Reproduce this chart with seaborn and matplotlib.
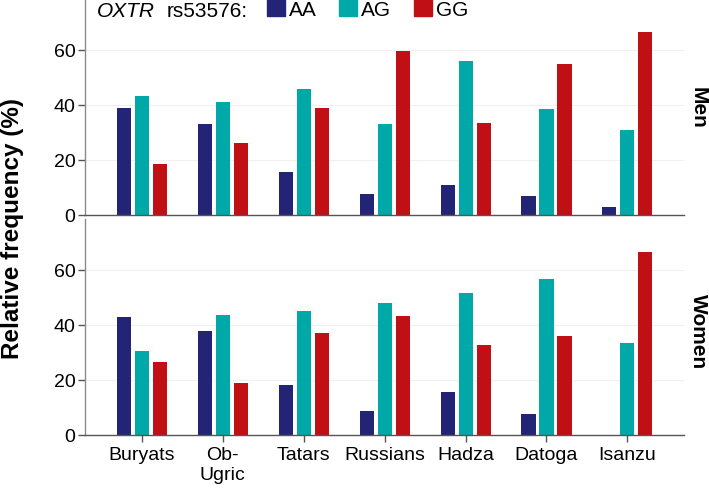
import pandas as pd
import seaborn as sns
import matplotlib.pyplot as plt

populations = ["Buryats", "Ob-\nUgric", "Tatars", "Russians", "Hadza", "Datoga", "Isanzu"]
genotypes = ["AA", "AG", "GG"]
colors = ["#242476", "#00a8a8", "#c01016"]

men_aa = [38.8, 33.0, 15.7, 7.6, 10.9, 7.0, 2.8]
men_ag = [43.1, 41.1, 45.7, 32.9, 56.0, 38.5, 31.0]
men_gg = [18.4, 26.1, 38.9, 59.6, 33.4, 54.7, 66.4]

women_aa = [42.9, 37.6, 18.0, 8.7, 15.7, 7.5, 0.0]
women_ag = [30.4, 43.4, 45.0, 48.0, 51.4, 56.6, 33.4]
women_gg = [26.5, 18.9, 37.0, 43.3, 32.8, 35.8, 66.5]


def to_long(aa, ag, gg):
    rows = []
    for g, vals in zip(genotypes, [aa, ag, gg]):
        for p, v in zip(populations, vals):
            rows.append({"population": p, "genotype": g, "freq": v})
    return pd.DataFrame(rows)


df_men = to_long(men_aa, men_ag, men_gg)
df_women = to_long(women_aa, women_ag, women_gg)

sns.set_style("white")
plt.rcParams["font.family"] = ["Liberation Sans", "DejaVu Sans"]
plt.rcParams["text.color"] = "black"
plt.rcParams["xtick.color"] = "#555555"
plt.rcParams["ytick.color"] = "#555555"
plt.rcParams["xtick.labelcolor"] = "black"
plt.rcParams["ytick.labelcolor"] = "black"

fig = plt.figure(figsize=(7.09, 4.89), dpi=100)
ax_top = fig.add_axes([0.12, 0.5583, 0.8449, 0.4417])
ax_bot = fig.add_axes([0.12, 0.1084, 0.8449, 0.4417])

for ax, df in [(ax_top, df_men), (ax_bot, df_women)]:
    sns.barplot(data=df, x="population", y="freq", hue="genotype",
                order=populations, hue_order=genotypes, palette=colors,
                width=0.667, gap=0.22, saturation=1, linewidth=0,
                ax=ax, legend=False)
    ax.set_xlim(-0.7, 6.7)
    ax.set_ylim(0, 78.4)
    ax.set_yticks([0, 20, 40, 60])
    ax.set_xlabel("")
    ax.set_ylabel("")
    ax.grid(axis="y", color="#f0f0f0", linewidth=0.8)
    ax.set_axisbelow(True)
    for s in ["top", "right"]:
        ax.spines[s].set_visible(False)
    ax.spines["left"].set_color("#8a8a8a")
    ax.spines["bottom"].set_color("#555555")
    ax.spines["left"].set_linewidth(1.0)
    ax.spines["bottom"].set_linewidth(1.0)
    ax.tick_params(axis="y", left=True, length=5, width=1, labelsize=14, pad=2)

ax_top.tick_params(axis="x", bottom=False, labelbottom=False)
ax_bot.tick_params(axis="x", bottom=True, length=5, width=1, labelsize=14, pad=3)

fig.text(0.018, 0.533, "Relative frequency (%)", rotation=90, fontsize=17.5,
         fontweight="bold", ha="center", va="center")
fig.text(0.9845, 0.779, "Men", rotation=-90, fontsize=15, fontweight="bold",
         ha="center", va="center")
fig.text(0.9845, 0.321, "Women", rotation=-90, fontsize=15, fontweight="bold",
         ha="center", va="center")

fig.text(0.1368, 0.9755, "OXTR", style="italic", fontsize=15, ha="left", va="center")
fig.text(0.2355, 0.9755, "rs53576:", fontsize=15, ha="left", va="center")

handles = [plt.Rectangle((0, 0), 1, 1, color=c) for c in colors]
fig.legend(handles, genotypes, ncol=3, loc="upper left",
           bbox_to_anchor=(0.3766, 1.0), frameon=False, fontsize=15,
           handlelength=0.87, handleheight=0.87, handletextpad=0.2,
           columnspacing=1.06, borderpad=0.0, borderaxespad=0)

plt.savefig("out.png", dpi=100)
